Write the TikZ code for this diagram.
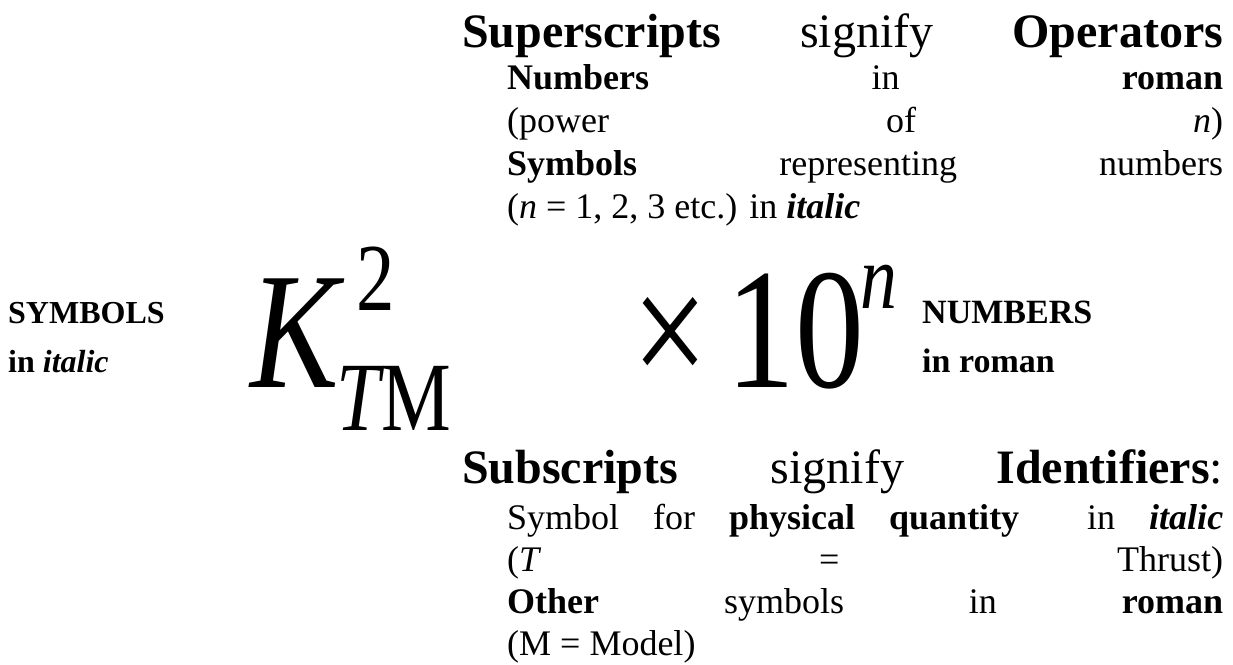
\documentclass[tikz,border=0pt]{standalone}
\usepackage{fontspec}
\setmainfont{Liberation Serif}
\newfontfamily\eqfont[FakeStretch=0.8]{Liberation Serif}
\usepackage{tikz}
\usetikzlibrary{positioning}

\begin{document}
\begin{tikzpicture}[
    x=1pt, y=-1pt,
    head/.style={anchor=base west, inner sep=0pt, text width=761pt, font=\fontsize{48}{55}\selectfont},
    body/.style={anchor=base west, inner sep=0pt, text width=716pt, font=\fontsize{36}{42}\selectfont},
    plain/.style={anchor=base west, inner sep=0pt, font=\fontsize{36}{42}\selectfont},
    side/.style={anchor=base west, inner sep=0pt, font=\fontsize{34}{49}\selectfont\bfseries},
    big/.style={anchor=base west, inner sep=0pt, font=\eqfont\fontsize{172}{172}\selectfont},
    idx/.style={anchor=base west, inner sep=0pt, font=\eqfont\fontsize{98}{98}\selectfont}
  ]
    \fill[white] (0,0) rectangle (1233,664);
    \useasboundingbox (0,0) rectangle (1233,664);

    % superscript notes
    \node (supHead) [head] at (462,47) {\textbf{Superscripts}\hfill signify\hfill \textbf{Operators}};
    \node (supA) [body] at (507,89) {\textbf{Numbers}\hfill in\hfill \textbf{roman}};
    \node (supB) [body] at (507,132) {(power\hfill of\hfill \textit{n})};
    \node (supC) [body] at (507,175) {\textbf{Symbols}\hfill representing\hfill numbers};
    \node (supD) [plain] at (507,218) {(\textit{n} = 1, 2, 3 etc.) in \textbf{\textit{italic}}};

    % side labels
    \node (symA) [side, font=\fontsize{32}{49}\selectfont\bfseries] at (8,323) {SYMBOLS};
    \node (symB) [side, font=\fontsize{32}{49}\selectfont\bfseries] at (8,372) {in \textit{italic}};
    \node (numA) [side] at (922,323) {NUMBERS};
    \node (numB) [side] at (922,372) {in roman};

    % the quantity
    \node (kay) [big, font=\eqfont\fontsize{166}{166}\selectfont\itshape] at (250,387) {K};
    \node (two) [idx, font=\eqfont\fontsize{96}{96}\selectfont] at (356,310) {2};
    \node (tm) [idx] at (336,430) {\textit{T}\kern-3ptM};
    \node (times) [big, font=\eqfont\fontsize{168}{168}\selectfont] at (632,387) {×};
    \node (ten) [big] at (726,387) {10};
    \node (enn) [idx, font=\eqfont\fontsize{92}{92}\selectfont\itshape] at (860,308) {n};

    % subscript notes
    \node (subHead) [head] at (462,483) {\textbf{Subscripts}\hfill signify\hfill \textbf{Identifiers}:};
    \node (subA) [body] at (507,529) {Symbol\hfill for\hfill \textbf{physical}\hfill \textbf{quantity}\hfill\hfill in\hfill \textbf{\textit{italic}}};
    \node (subB) [body] at (507,571) {(\textit{T}\hfill =\hfill Thrust)};
    \node (subC) [body] at (507,613) {\textbf{Other}\hfill symbols\hfill in\hfill \textbf{roman}};
    \node (subD) [plain] at (507,655) {(M = Model)};
  \end{tikzpicture}
\end{document}
